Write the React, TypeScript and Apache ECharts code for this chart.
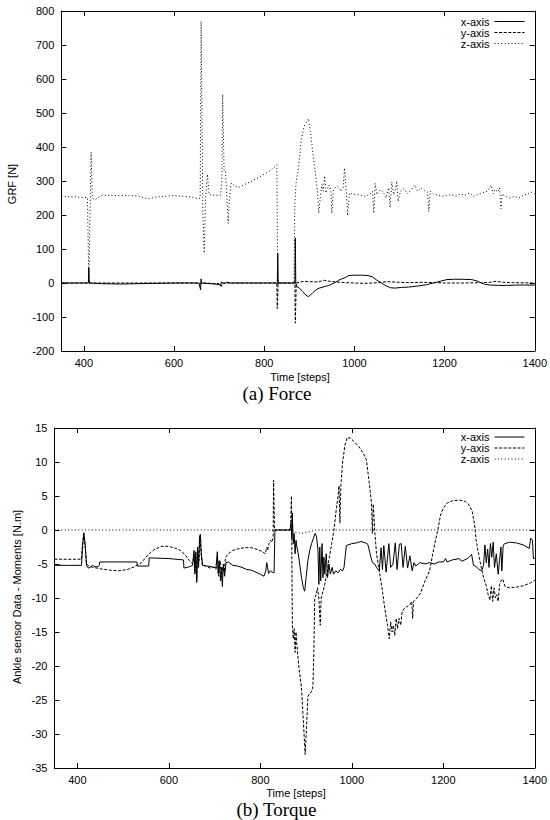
import React, { useEffect, useRef } from "react";
import * as echarts from "echarts";

// ---------- tick labels / categories ----------
const stepTicks = [400, 600, 800, 1000, 1200, 1400];
const legendNames = ["x-axis", "y-axis", "z-axis"];

// ---------- (a) Force : [time step, GRF N] ----------
const forceXAxis: number[][] = [
  [350, 0], [405, 0], [410, 0], [411, 45], [412, 0], [440, -2], [480, -3], [520, -2], [560, -1], [600, 0],
  [655, 0], [659, -20], [660, 12], [661, 0], [690, -3], [700, -5], [703, -8], [705, 3], [710, -2], [718, 2],
  [725, 0], [760, 0], [800, 0], [826, 0], [829, -3], [830, 88], [831, 0], [866, 0], [868, 0], [869, 132],
  [870, 0], [872, -10], [878, -15], [885, -25], [892, -35], [898, -40], [903, -35], [908, -28], [915, -20],
  [922, -15], [928, -13], [935, -10], [942, -8], [950, -3], [958, 2], [965, 8], [972, 12], [980, 16],
  [988, 22], [1000, 23], [1015, 23], [1030, 22], [1040, 18], [1050, 8], [1060, 0], [1070, -8], [1080, -14],
  [1090, -15], [1105, -13], [1120, -12], [1140, -9], [1160, -5], [1175, 0], [1190, 5], [1205, 10],
  [1220, 11], [1240, 11], [1260, 10], [1272, 6], [1282, 0], [1290, -4], [1300, -6], [1320, -7], [1340, -7],
  [1360, -6], [1380, -6], [1400, -6],
];
const forceYAxis: number[][] = [
  [350, 0], [655, 0], [660, -3], [662, 0], [700, -2], [705, -10], [707, 0], [828, 0], [829, -75], [831, 0],
  [868, 0], [869, -118], [871, 0], [880, 3], [890, 5], [900, 4], [915, 3], [925, 5], [933, 8], [945, 5],
  [960, 3], [980, 1], [1000, 0], [1020, -1], [1040, 0], [1060, 2], [1072, 4], [1100, 2], [1120, 1],
  [1150, 2], [1180, 1], [1200, 0], [1240, 0], [1280, 1], [1300, 2], [1314, 5], [1320, 4], [1330, 2],
  [1350, 1], [1400, 0],
];
const forceZAxis: number[][] = [
  [350, 255], [360, 254], [370, 253], [380, 254], [390, 252], [400, 252], [408, 251], [411, 0], [413, 150],
  [416, 385], [419, 250], [424, 245], [430, 250], [440, 258], [460, 258], [480, 257], [500, 257], [520, 256],
  [535, 250], [545, 248], [560, 253], [580, 255], [600, 257], [620, 255], [640, 252], [655, 248], [658, 250],
  [660, 770], [664, 200], [667, 88], [670, 250], [674, 320], [678, 260], [690, 258], [703, 258], [706, 300],
  [708, 555], [711, 330], [714, 330], [717, 260], [720, 175], [723, 250], [727, 295], [735, 285], [745, 282],
  [760, 292], [780, 305], [800, 320], [815, 332], [828, 348], [830, 0], [866, 0], [868, 240], [871, 300],
  [876, 340], [882, 420], [888, 460], [893, 472], [898, 483], [903, 440], [908, 380], [913, 330], [918, 270],
  [921, 205], [925, 260], [928, 290], [931, 270], [934, 315], [937, 265], [941, 280], [944, 288], [948, 270],
  [950, 205], [953, 270], [957, 280], [962, 285], [966, 280], [970, 270], [975, 280], [978, 338], [982, 270],
  [985, 198], [989, 265], [995, 262], [1005, 260], [1015, 258], [1025, 255], [1035, 262], [1040, 270],
  [1043, 205], [1046, 293], [1050, 260], [1058, 275], [1064, 268], [1070, 250], [1076, 280], [1079, 222],
  [1083, 297], [1087, 260], [1091, 275], [1094, 300], [1097, 240], [1102, 270], [1110, 278], [1118, 262],
  [1126, 275], [1134, 288], [1140, 270], [1148, 280], [1155, 272], [1162, 268], [1165, 210], [1168, 270],
  [1175, 262], [1185, 258], [1195, 255], [1205, 258], [1215, 260], [1225, 255], [1235, 262], [1245, 258],
  [1255, 265], [1265, 255], [1275, 262], [1285, 265], [1295, 270], [1303, 288], [1308, 262], [1312, 275],
  [1318, 268], [1322, 280], [1325, 218], [1328, 262], [1335, 255], [1345, 250], [1355, 255], [1365, 250],
  [1375, 258], [1385, 262], [1395, 268], [1400, 262],
];

// ---------- (b) Torque : [time step, moment N.m] ----------
const torqueXAxis: number[][] = [
  [350, -5.2], [380, -5.2], [409, -5.2], [411, -3], [414, -0.4], [417, -2], [420, -5.2], [424, -5.6],
  [428, -5.5], [433, -5.2], [438, -5.4], [445, -5.4], [448, -5.2], [449, -4.7], [500, -4.7], [530, -4.7],
  [531, -5.3], [556, -5.3], [557, -4.1], [600, -4.2], [632, -4.4], [633, -5.6], [645, -5.4], [652, -5.2],
  [655, -3], [657, -6.5], [659, -3.2], [661, -7.4], [663, -2.5], [665, -5.5], [667, -1], [669, -0.6],
  [671, -3.5], [674, -5.2], [685, -5.3], [700, -5.5], [703, -5.6], [706, -3.2], [708, -6.5], [710, -4.5],
  [713, -7.5], [715, -5.5], [717, -8.3], [719, -5], [722, -6.8], [725, -4.8], [730, -4.7], [740, -5.2],
  [750, -5.3], [760, -5.5], [770, -5.8], [780, -5.9], [790, -6.2], [800, -6.5], [808, -6.8], [812, -6.0],
  [814, -4.8], [816, -5.5], [818, -6.4], [822, -6.0], [826, -6.2], [830, -6.3], [832, 0], [865, 0],
  [867, 1], [869, -1.2], [870, 2.5], [872, -2], [874, -0.5], [876, -3.5], [878, -1.5], [880, -2.5],
  [883, -3.5], [886, -5], [890, -7], [894, -8.5], [897, -9], [900, -7], [904, -4.5], [908, -3], [912, -2],
  [916, -1.2], [920, -0.5], [923, -1], [926, -3], [928, -8], [930, -2.5], [932, -7.5], [935, -2], [937, -7],
  [939, -4], [941, -6.5], [944, -3.5], [947, -7], [950, -5], [953, -6.5], [957, -5.5], [960, -6.5],
  [965, -6], [970, -6.3], [975, -5.8], [980, -6], [983, -5.5], [988, -2.3], [1000, -2], [1010, -1.9],
  [1020, -1.7], [1030, -1.9], [1035, -2.1], [1040, -3.5], [1045, -4.8], [1050, -5], [1055, -5.6],
  [1060, -6], [1064, -2.6], [1067, -5.8], [1070, -2.3], [1075, -6.2], [1081, -2], [1085, -5.5], [1090, -5],
  [1095, -1.9], [1099, -5.8], [1104, -2.1], [1108, -2], [1112, -5.5], [1117, -2.4], [1122, -5.6],
  [1127, -3.8], [1132, -6], [1136, -4.8], [1140, -5.3], [1145, -5], [1150, -4.8], [1160, -5], [1170, -4.8],
  [1180, -5], [1190, -4.7], [1200, -4.7], [1205, -4.2], [1208, -4.7], [1220, -4.4], [1235, -4.2],
  [1240, -4.6], [1250, -4.3], [1255, -4.1], [1262, -3.6], [1266, -5.2], [1272, -5.4], [1278, -5.8],
  [1284, -6], [1288, -5.2], [1291, -2.2], [1294, -4.8], [1297, -2.8], [1300, -5.5], [1303, -2], [1306, -4],
  [1309, -1.8], [1312, -5.5], [1316, -3.5], [1320, -6.5], [1323, -4.5], [1326, -2.5], [1328, -6],
  [1331, -2.2], [1335, -2], [1345, -1.8], [1360, -1.9], [1375, -2.2], [1388, -2.7], [1391, -1.2],
  [1395, -1.5], [1397, -4.2], [1400, -4.2],
];
const torqueYAxis: number[][] = [
  [350, -4.3], [380, -4.3], [409, -4.3], [411, -2], [414, -0.6], [417, -2.5], [420, -5], [425, -5.3],
  [435, -5.5], [450, -5.7], [470, -5.9], [490, -6], [510, -5.8], [525, -5.4], [540, -4.8], [550, -4.0],
  [560, -3.3], [570, -2.8], [585, -2.4], [600, -2.4], [615, -2.7], [625, -3.0], [635, -3.6], [645, -4.5],
  [652, -5], [655, -3.5], [657, -6], [659, -4], [661, -7.8], [663, -3], [666, -4.5], [668, -1], [670, -3],
  [673, -5.2], [680, -5.3], [690, -5.6], [700, -5.5], [703, -5.8], [706, -4.2], [709, -6.8], [712, -4.5],
  [715, -7], [718, -5.5], [721, -6.2], [724, -4], [730, -3.5], [740, -3.0], [750, -2.8], [765, -2.6],
  [780, -2.6], [795, -2.9], [805, -3.2], [811, -3.5], [814, -2.5], [816, -3], [819, -2], [822, -1.5],
  [825, -1.8], [828, -1.2], [829, 7.3], [831, 0], [866, 0], [868, 5], [870, -14], [872, -16], [874, -14.5],
  [876, -18], [878, -15], [880, -17], [884, -20], [890, -23.2], [894, -28], [898, -33], [901, -29],
  [904, -24.5], [908, -24], [912, -23.8], [915, -23], [917, -18], [919, -10], [922, -9.5], [925, -8.5],
  [928, -10], [931, -14], [933, -10], [937, -9], [941, -8], [946, -6], [951, -4], [956, -2], [961, 0],
  [966, 3], [970, 5], [972, 6.5], [974, 1], [976, 6.5], [980, 10], [985, 12.5], [990, 13.6], [997, 13.5],
  [1005, 13], [1015, 12.3], [1025, 11.3], [1032, 10.3], [1038, 7], [1043, 4], [1045, -0.5], [1047, 3.8],
  [1050, 0], [1054, -3.5], [1060, -6], [1066, -8.5], [1072, -11.5], [1078, -14], [1082, -16], [1085, -13.5],
  [1088, -15], [1091, -14], [1094, -15.5], [1097, -13], [1100, -14.5], [1103, -13], [1107, -14], [1110, -12],
  [1115, -11.5], [1120, -11.3], [1127, -11], [1131, -10.5], [1133, -13], [1135, -10.5], [1142, -10],
  [1150, -9.3], [1160, -7.5], [1170, -6], [1177, -3.5], [1183, -1.5], [1188, 0], [1194, 2.2], [1200, 3.2],
  [1209, 4], [1220, 4.3], [1235, 4.4], [1248, 4.2], [1255, 3.8], [1263, 2.8], [1268, 1], [1272, -1.5],
  [1277, -3.5], [1282, -5.2], [1288, -7], [1294, -8.2], [1298, -9.5], [1302, -10.3], [1305, -8.2],
  [1308, -10.5], [1311, -8.5], [1314, -10], [1317, -9.5], [1320, -10.5], [1323, -8], [1326, -7.5],
  [1330, -7.2], [1335, -8.3], [1345, -8.5], [1360, -8.4], [1375, -8.2], [1390, -7.8], [1400, -7.4],
];
const torqueZAxis: number[][] = [
  [350, 0], [830, 0], [866, 0], [875, -0.3], [890, -0.5], [905, -0.3], [920, 0], [1400, 0],
];

const SANS = "'Liberation Sans', Arial, Helvetica, sans-serif";
const SERIF = "'Liberation Serif', 'Times New Roman', serif";
const INK = "#000";

const lineTypes: any[] = ["solid", [3, 1.6], [1, 2.4]];

function buildAxes(gridIndex: number, yMin: number, yMax: number, yInterval: number) {
  const axisLine = { show: true, onZero: false, lineStyle: { color: INK, width: 1 } };
  const tick = { show: true, inside: true, length: 5, lineStyle: { color: INK, width: 1 } };
  const label = { color: INK, fontFamily: SANS, fontSize: 11 };
  const x = [
    {
      gridIndex, type: "value", position: "bottom", min: 350, max: 1400,
      axisLine, splitLine: { show: false },
      axisTick: { ...tick, customValues: stepTicks },
      axisLabel: { ...label, margin: 6, customValues: stepTicks, formatter: (v: number) => String(v) },
    },
    {
      gridIndex, type: "value", position: "top", min: 350, max: 1400,
      axisLine, splitLine: { show: false },
      axisTick: { ...tick, customValues: stepTicks },
      axisLabel: { show: false, customValues: stepTicks },
    },
  ];
  const y = [
    {
      gridIndex, type: "value", position: "left", min: yMin, max: yMax, interval: yInterval,
      axisLine, splitLine: { show: false }, axisTick: tick,
      axisLabel: { ...label, margin: 7, formatter: (v: number) => String(v) },
    },
    {
      gridIndex, type: "value", position: "right", min: yMin, max: yMax, interval: yInterval,
      axisLine, splitLine: { show: false }, axisTick: tick, axisLabel: { show: false },
    },
  ];
  return { x, y };
}

function buildSeries(datasets: number[][][], axisIndex: number) {
  return datasets.map((data, i) => ({
    type: "line",
    name: legendNames[i],
    xAxisIndex: axisIndex,
    yAxisIndex: axisIndex,
    data,
    symbol: "none",
    showSymbol: false,
    silent: true,
    z: 2 + i,
    lineStyle: { color: INK, width: 1, type: lineTypes[i] },
    itemStyle: { color: INK },
  }));
}

export default function App() {
  const ref = useRef<HTMLDivElement>(null);

  useEffect(() => {
    if (!ref.current) return;
    const chart = echarts.init(ref.current, null, { renderer: "svg", width: 550, height: 820 });

    const top = buildAxes(0, -200, 800, 100);
    const bottom = buildAxes(1, -35, 15, 5);

    const legendBase = {
      orient: "vertical",
      align: "right",
      right: 25,
      padding: 0,
      itemGap: 0,
      itemWidth: 30,
      itemHeight: 8,
      selectedMode: false,
      data: legendNames,
      itemStyle: { color: "rgba(0,0,0,0)", borderWidth: 0, opacity: 0 },
      lineStyle: { width: 1, color: INK },
      textStyle: { color: INK, fontFamily: SANS, fontSize: 11, lineHeight: 11 },
    };

    const option: any = {
      animation: false,
      backgroundColor: "#fff",
      grid: [
        { left: 61.3, top: 11, width: 477.7, height: 340, containLabel: false },
        { left: 54.5, top: 428, width: 483.5, height: 340, containLabel: false },
      ],
      xAxis: [...top.x, ...bottom.x],
      yAxis: [...top.y, ...bottom.y],
      legend: [
        { ...legendBase, top: 16 },
        { ...legendBase, top: 431.5 },
      ],
      series: [
        ...buildSeries([forceXAxis, forceYAxis, forceZAxis], 0),
        ...buildSeries([torqueXAxis, torqueYAxis, torqueZAxis], 2),
      ],
      graphic: [
        {
          type: "text", x: 12, y: 184, rotation: Math.PI / 2,
          style: { text: "GRF [N]", fill: INK, font: `11px ${SANS}`, align: "center", verticalAlign: "middle" },
        },
        {
          type: "text", x: 300, y: 376.5,
          style: { text: "Time [steps]", fill: INK, font: `11px ${SANS}`, align: "center", verticalAlign: "middle" },
        },
        {
          type: "text", x: 277, y: 393,
          style: { text: "(a) Force", fill: INK, font: `19px ${SERIF}`, align: "center", verticalAlign: "middle" },
        },
        {
          type: "text", x: 17, y: 597, rotation: Math.PI / 2,
          style: {
            text: "Ankle sensor Data - Moments [N.m]", fill: INK, font: `11px ${SANS}`,
            align: "center", verticalAlign: "middle",
          },
        },
        {
          type: "text", x: 296, y: 792.5,
          style: { text: "Time [steps]", fill: INK, font: `11px ${SANS}`, align: "center", verticalAlign: "middle" },
        },
        {
          type: "text", x: 276.5, y: 809.5,
          style: { text: "(b) Torque", fill: INK, font: `19px ${SERIF}`, align: "center", verticalAlign: "middle" },
        },
      ],
    };

    chart.setOption(option);
    return () => chart.dispose();
  }, []);

  return (
    <div
      ref={ref}
      style={{ position: "fixed", left: 0, top: 0, width: 550, height: 820, background: "#fff" }}
    />
  );
}
